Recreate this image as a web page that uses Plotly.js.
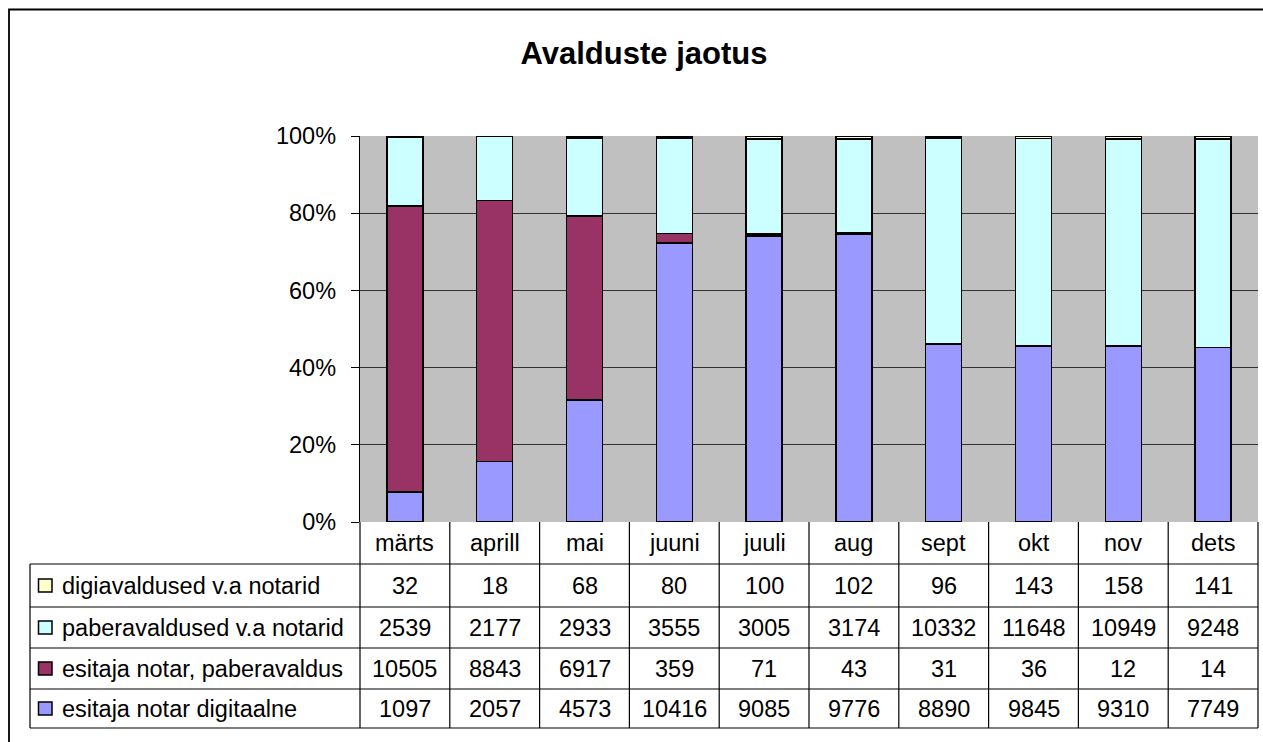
<!DOCTYPE html>
<html>
<head>
<meta charset="utf-8">
<script src="https://cdn.plot.ly/plotly-3.0.1.min.js"></script>
<style>html,body{margin:0;padding:0;background:#fff;}#chart{width:1263px;height:742px;}</style>
</head>
<body>
<div id="chart"></div>
<script>
// ---- data ----
const months = ["märts","aprill","mai","juuni","juuli","aug","sept","okt","nov","dets"];
const seriesNames = ["esitaja notar digitaalne","esitaja notar, paberavaldus","paberavaldused v.a notarid","digiavaldused v.a notarid"];
const notarDigi  = [1097, 2057, 4573, 10416, 9085, 9776, 8890, 9845, 9310, 7749];
const notarPaber = [10505, 8843, 6917, 359, 71, 43, 31, 36, 12, 14];
const paberMuu   = [2539, 2177, 2933, 3555, 3005, 3174, 10332, 11648, 10949, 9248];
const digiMuu    = [32, 18, 68, 80, 100, 102, 96, 143, 158, 141];
const yTicks = [0, 20, 40, 60, 80, 100];

// ---- styling ----
const colors = ["#9999FF", "#993366", "#CCFFFF", "#FFFFCC"];
const seriesValues = [notarDigi, notarPaber, paberMuu, digiMuu];
const FONT = "Liberation Sans, Arial, sans-serif";
const FS = 23.5;

const W = 1263, H = 742;
const plotL = 360, plotR = 1258, plotT = 136, plotB = 522;
const px2x = p => (p - plotL) / (plotR - plotL);
const py2y = p => (plotB - p) / (plotB - plotT);

const traces = seriesValues.map((vals, i) => ({
  type: "bar",
  name: seriesNames[i],
  x: months,
  y: vals,
  width: 0.4,
  marker: {color: colors[i], line: {color: "#000", width: 1.5}},
  hoverinfo: "skip"
}));

const shapes = [];
const annotations = [];

// outer chart border
shapes.push({type: "rect", xref: "paper", yref: "paper",
  x0: px2x(9), x1: px2x(1275), y0: py2y(9.5), y1: py2y(760),
  line: {color: "#000", width: 1.8}, fillcolor: "rgba(0,0,0,0)", layer: "below"});

// table geometry
const tableLeft = 30;
const rowLines = [564, 607, 648, 689, 728];
const colW = (plotR - plotL) / months.length;
const lineStyle = {color: "#000", width: 1.2};

rowLines.forEach(yy => shapes.push({type: "line", xref: "paper", yref: "paper",
  x0: px2x(tableLeft), x1: px2x(plotR), y0: py2y(yy), y1: py2y(yy), line: lineStyle}));
shapes.push({type: "line", xref: "paper", yref: "paper",
  x0: px2x(tableLeft), x1: px2x(tableLeft), y0: py2y(564), y1: py2y(728), line: lineStyle});
for (let k = 0; k <= months.length; k++) {
  const xx = plotL + k * colW;
  shapes.push({type: "line", xref: "paper", yref: "paper",
    x0: px2x(xx), x1: px2x(xx), y0: py2y(plotB), y1: py2y(728), line: lineStyle});
}

// month header
months.forEach(m => annotations.push({xref: "x", yref: "paper", x: m, y: py2y(543),
  text: m, showarrow: false, xanchor: "center", yanchor: "middle",
  font: {family: FONT, size: FS, color: "#000"}}));

// table rows: top row = last series
const rowCenters = [585.5, 627.5, 668.5, 708.5];
for (let r = 0; r < 4; r++) {
  const si = 3 - r;
  const yc = rowCenters[r];
  shapes.push({type: "rect", xref: "paper", yref: "paper",
    x0: px2x(38.5), x1: px2x(52), y0: py2y(yc - 6.5), y1: py2y(yc + 6.5),
    fillcolor: colors[si], line: {color: "#000", width: 1.5}});
  annotations.push({xref: "paper", yref: "paper", x: px2x(60), y: py2y(yc),
    text: seriesNames[si], showarrow: false, xanchor: "left", yanchor: "middle",
    font: {family: FONT, size: FS, color: "#000"}});
  seriesValues[si].forEach((v, j) => annotations.push({xref: "x", yref: "paper",
    x: months[j], y: py2y(yc), text: String(v), showarrow: false,
    xanchor: "center", yanchor: "middle",
    font: {family: FONT, size: FS, color: "#000"}}));
}

const layout = {
  width: W, height: H,
  margin: {l: plotL, r: W - plotR, t: plotT, b: H - plotB, pad: 0},
  paper_bgcolor: "#fff",
  plot_bgcolor: "#C0C0C0",
  barmode: "stack",
  barnorm: "percent",
  showlegend: false,
  font: {family: FONT, color: "#000"},
  title: {text: "<b>Avalduste jaotus</b>", xref: "paper", yref: "container",
    x: px2x(644), y: 1 - 53 / H, xanchor: "center", yanchor: "middle",
    font: {family: FONT, size: 31, color: "#000"}},
  xaxis: {type: "category", showticklabels: false, ticks: "", showgrid: false,
    zeroline: false, showline: false, range: [-0.5, months.length - 0.5], fixedrange: true},
  yaxis: {range: [0, 100], tickvals: yTicks, ticktext: yTicks.map(t => t + "%"),
    ticks: "outside", ticklen: 8, tickcolor: "#000", tickwidth: 1,
    showline: true, linecolor: "#000", linewidth: 1.2,
    showgrid: true, gridcolor: "#333333", gridwidth: 1, zeroline: false,
    ticklabelstandoff: 10,
    tickfont: {family: FONT, size: FS, color: "#000"}, fixedrange: true},
  shapes: shapes,
  annotations: annotations
};

Plotly.newPlot("chart", traces, layout, {displayModeBar: false, staticPlot: true});
</script>
</body>
</html>
